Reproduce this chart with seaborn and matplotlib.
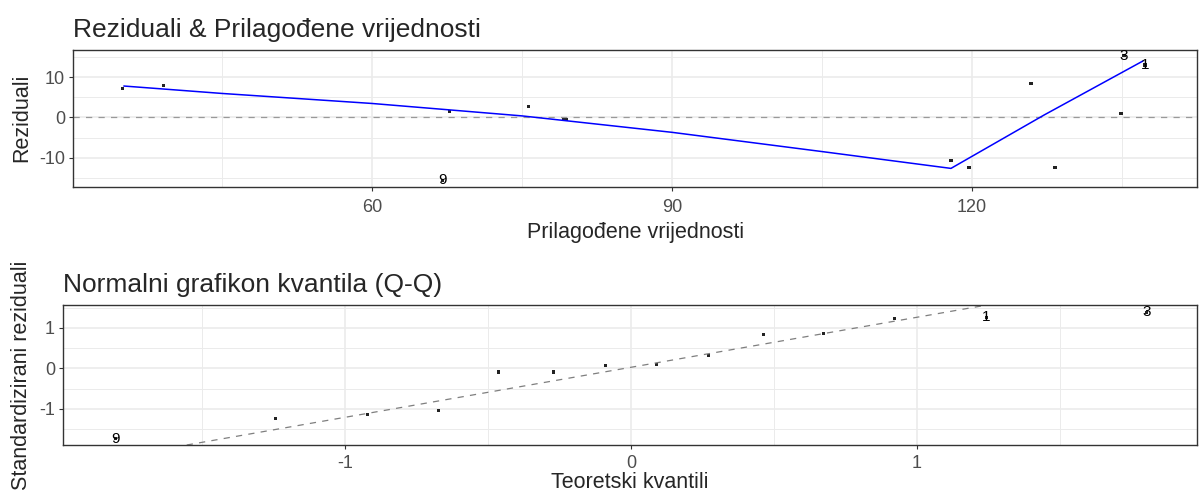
import numpy as np
import pandas as pd
import matplotlib
matplotlib.use("Agg")
import matplotlib.pyplot as plt
import seaborn as sns
from statistics import NormalDist

# -------------------------------
# Values
# -------------------------------

fitted = [35.1, 39.2, 67.1, 67.8, 75.7, 79.2, 79.5, 117.9, 119.7, 125.9, 128.3, 134.9, 135.2, 137.3]
residuals = [7.3, 8.0, -15.7, 1.4, 2.7, -0.6, -0.6, -10.7, -12.5, 8.4, -12.5, 0.95, 15.4, 13.1]
obs_labels = ["", "", "9", "", "", "", "", "", "", "", "", "", "3", "1"]

# loess smoother through the residuals
smooth_x = [35.2, 45, 60, 75, 90, 105, 117.9, 127.2, 137.1]
smooth_y = [7.85, 6.0, 3.5, 0.4, -3.7, -8.5, -12.7, 0.6, 14.1]

# standardized residuals, sorted
std_resid = [-1.74, -1.24, -1.15, -1.05, -0.09, -0.09, 0.06, 0.09, 0.32, 0.84, 0.87, 1.24, 1.27, 1.39]
qq_labels = ["9", "", "", "", "", "", "", "", "", "", "", "", "1", "3"]

n = len(std_resid)
theo = [NormalDist().inv_cdf((i + 0.5) / n) for i in range(n)]

df_res = pd.DataFrame({"fitted": fitted, "resid": residuals, "lab": obs_labels})
df_smooth = pd.DataFrame({"x": smooth_x, "y": smooth_y})
df_qq = pd.DataFrame({"theo": theo, "sample": std_resid, "lab": qq_labels})

# qqline through the quartiles (like R)
q1, q3 = np.quantile(std_resid, [0.25, 0.75])
z1, z3 = NormalDist().inv_cdf(0.25), NormalDist().inv_cdf(0.75)
slope = (q3 - q1) / (z3 - z1)
intercept = q1 - slope * z1

# -------------------------------
# Style
# -------------------------------

sns.set_style("white")
plt.rcParams['font.family'] = ['Liberation Sans', 'DejaVu Sans']
plt.rcParams['axes.unicode_minus'] = False

tick_col = "#4D4D4D"
grid_col = "#EBEBEB"


def style_axes(ax, xmaj, xmin, ymaj, ymin):
    ax.set_xticks(xmaj)
    ax.set_xticks(xmin, minor=True)
    ax.set_yticks(ymaj)
    ax.set_yticks(ymin, minor=True)
    ax.grid(True, which="major", color=grid_col, lw=1.2)
    ax.grid(True, which="minor", color=grid_col, lw=0.7)
    ax.set_axisbelow(True)
    ax.tick_params(which="major", length=3, width=0.8, color="#333333",
                   labelsize=13, labelcolor=tick_col, bottom=True, left=True)
    ax.tick_params(axis="x", which="major", pad=6)
    ax.tick_params(axis="y", which="major", pad=3)
    ax.tick_params(which="minor", length=0)
    for s in ax.spines.values():
        s.set_color("#333333")
        s.set_linewidth(1.0)


fig = plt.figure(figsize=(12, 4.99), dpi=100)

# -------------------------------
# Residuals vs fitted
# -------------------------------

ax1 = fig.add_axes([0.0611, 0.6259, 0.9364, 0.2749])
ax1.axhline(0, color="#999999", lw=0.9, ls=(0, (5, 5)))
sns.lineplot(data=df_smooth, x="x", y="y", color="#0000FF", lw=1.1, sort=False, ax=ax1)
sns.scatterplot(data=df_res, x="fitted", y="resid", color="#222222", s=5,
                edgecolor="none", marker="s", ax=ax1)
for _, r in df_res[df_res["lab"] != ""].iterrows():
    ax1.text(r["fitted"], r["resid"], r["lab"], ha="center", va="center",
             fontsize=11, color="black")
ax1.set_xlim(30.15, 142.5)
ax1.set_ylim(-17.26, 16.96)
style_axes(ax1, [60, 90, 120], [45, 75, 105, 135], [-10, 0, 10], [-15, -5, 5, 15])
ax1.set_xlabel("Prilagođene vrijednosti", fontsize=15.5, labelpad=4)
ax1.set_ylabel("Reziduali", fontsize=15.5, labelpad=5)
ax1.set_title("Reziduali & Prilagođene vrijednosti", loc="left", fontsize=19, pad=9)

# -------------------------------
# Normal Q-Q
# -------------------------------

ax2 = fig.add_axes([0.0528, 0.1082, 0.9447, 0.2806])
ax2.axline((0, intercept), slope=slope, color="#7F7F7F", lw=0.9, ls=(0, (5, 5)))
sns.scatterplot(data=df_qq, x="theo", y="sample", color="#222222", s=5,
                edgecolor="none", marker="s", ax=ax2)
for _, r in df_qq[df_qq["lab"] != ""].iterrows():
    ax2.text(r["theo"], r["sample"], r["lab"], ha="center", va="center",
             fontsize=11, color="black")
ax2.set_xlim(-1.985, 1.979)
ax2.set_ylim(-1.90, 1.57)
style_axes(ax2, [-1, 0, 1], [-1.5, -0.5, 0.5, 1.5], [-1, 0, 1], [-1.5, -0.5, 0.5, 1.5])
ax2.tick_params(axis="x", which="major", pad=4)
ax2.set_xlabel("Teoretski kvantili", fontsize=15.5, labelpad=0)
ax2.set_ylabel("Standardizirani reziduali", fontsize=15.5, labelpad=5)
ax2.set_title("Normalni grafikon kvantila (Q-Q)", loc="left", fontsize=19, pad=9)

fig.savefig("out.png", dpi=100)
